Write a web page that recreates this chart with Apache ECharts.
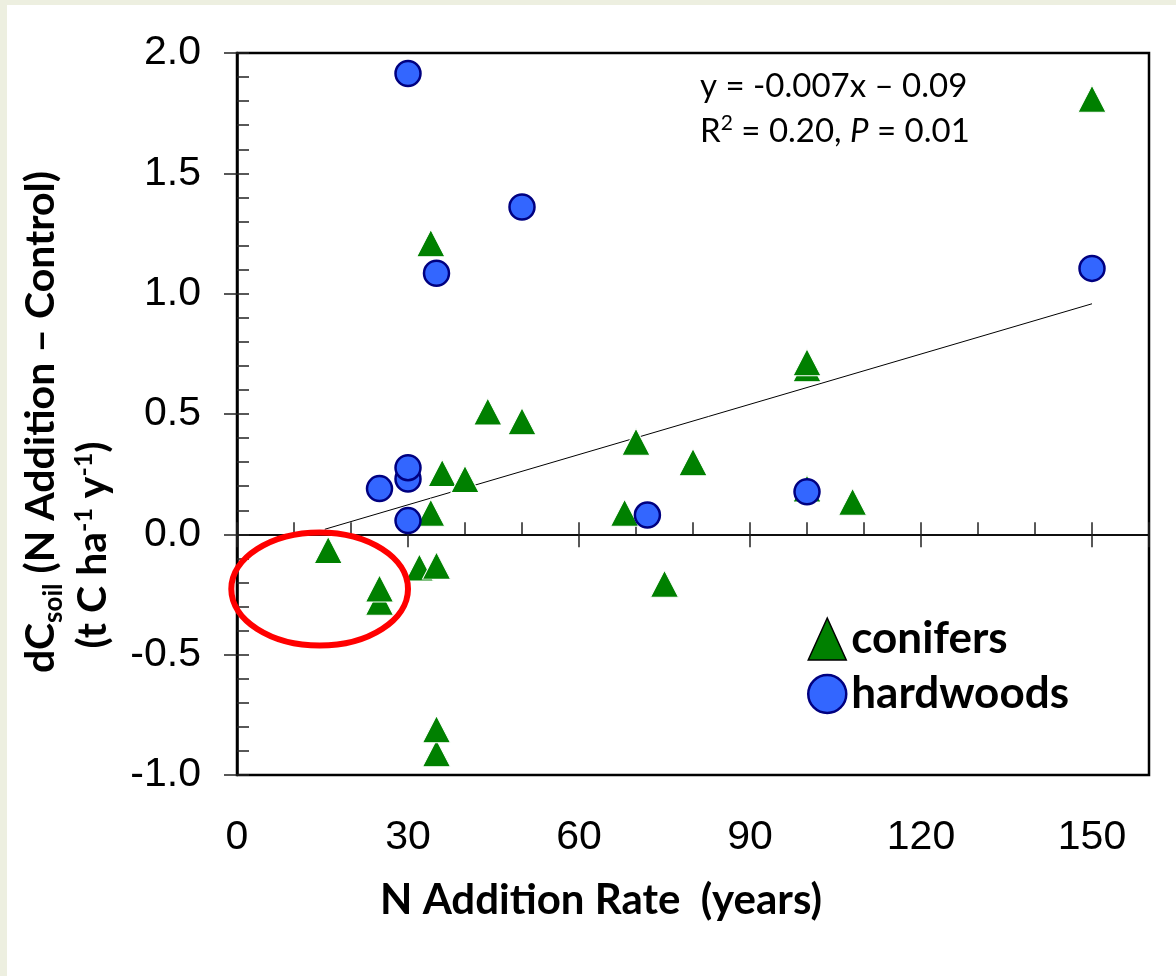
<!DOCTYPE html>
<html>
<head>
<meta charset="utf-8">
<script src="https://cdn.jsdelivr.net/npm/echarts@6/dist/echarts.min.js"></script>
<style>
html,body{margin:0;padding:0;background:#ffffff;}
#chart{width:1176px;height:976px;}
</style>
</head>
<body>
<div id="chart"></div>
<script>
// ---- data ----
const coniferX = [150, 34, 44, 36, 40, 34, 50, 70, 80, 68, 100, 100, 100, 108, 75, 16, 25, 25, 32, 35, 35, 35];
const coniferY = [1.81, 1.21, 0.51, 0.255, 0.23, 0.09, 0.47, 0.385, 0.30, 0.09, 0.69, 0.715, 0.19, 0.135, -0.205, -0.065, -0.28, -0.225, -0.138, -0.13, -0.91, -0.81];
const hardwoodX = [30, 50, 35, 150, 25, 30, 30, 30, 72, 100];
const hardwoodY = [1.915, 1.36, 1.085, 1.105, 0.19, 0.23, 0.277, 0.057, 0.08, 0.177];
const fitX = [15.4, 150];
const fitY = [0.021, 0.958];
const xTickLabels = [0, 30, 60, 90, 120, 150];
const yTickLabels = [-1.0, -0.5, 0.0, 0.5, 1.0, 1.5, 2.0];
const highlight = [14.5, -0.227, 15.5, 0.235]; // centre x, centre y, radius x, radius y (data units)

const BEIGE = '#edefe0';
const chart = echarts.init(document.getElementById('chart'));

const tickStyle = {color: '#222', width: 1.5};
const option = {
  animation: false,
  backgroundColor: '#ffffff',
  grid: {left: 237, right: 27, top: 53, bottom: 201, show: true, borderColor: '#000', borderWidth: 2.5, backgroundColor: '#ffffff'},
  xAxis: [
    {
      type: 'value', min: 0, max: 160, interval: 10, position: 'bottom',
      axisLine: {show: false, onZero: false},
      axisTick: {show: false},
      splitLine: {show: false},
      axisLabel: {
        margin: 42, fontSize: 41, fontFamily: 'Liberation Sans, Arial, sans-serif', color: '#000',
        formatter: v => xTickLabels.includes(v) ? String(v) : ''
      }
    },
    {
      type: 'value', min: 0, max: 160, interval: 10, position: 'bottom',
      axisLine: {show: true, onZero: true, onZeroAxisIndex: 0, lineStyle: {color: '#000', width: 1.5}},
      axisTick: {show: true, inside: true, length: 12, lineStyle: tickStyle},
      axisLabel: {show: false},
      splitLine: {show: false}
    },
    {
      type: 'value', min: 0, max: 160, interval: 30, position: 'bottom',
      axisLine: {show: true, onZero: true, onZeroAxisIndex: 0, lineStyle: {color: '#000', width: 1.5}},
      axisTick: {show: true, inside: false, length: 13, lineStyle: tickStyle},
      axisLabel: {show: false},
      splitLine: {show: false}
    }
  ],
  yAxis: [
    {
      type: 'value', min: -1, max: 2, interval: 0.5, position: 'left',
      axisLine: {show: true, onZero: false, lineStyle: {color: '#000', width: 2.5}},
      axisTick: {show: true, inside: true, length: 12, lineStyle: tickStyle},
      minorTick: {show: true, splitNumber: 5, length: 12, lineStyle: tickStyle},
      splitLine: {show: false},
      axisLabel: {
        margin: 36, fontSize: 41, fontFamily: 'Liberation Sans, Arial, sans-serif', color: '#000',
        formatter: v => {
          const hit = yTickLabels.find(t => Math.abs(t - v) < 1e-9);
          return hit === undefined ? '' : hit.toFixed(1);
        }
      }
    },
    {
      type: 'value', min: -1, max: 2, interval: 0.5, position: 'left',
      axisLine: {show: false, onZero: false},
      axisTick: {show: true, inside: false, length: 13, lineStyle: tickStyle},
      axisLabel: {show: false},
      splitLine: {show: false}
    }
  ],
  legend: {
    orient: 'vertical', left: 802, top: 612,
    itemWidth: 38, itemHeight: 42, itemGap: 11,
    textStyle: {fontFamily: 'Lato, sans-serif', fontWeight: 'bold', fontSize: 44, color: '#000', lineHeight: 42, padding: [0, 0, 0, 0]},
    data: [
      {name: 'conifers', icon: 'triangle', itemStyle: {color: '#008000', borderColor: '#000', borderWidth: 1.5}},
      {name: 'hardwoods', icon: 'circle', itemStyle: {color: '#3366ff', borderColor: '#000080', borderWidth: 2.5}}
    ]
  },
  series: [
    {
      name: 'fit', type: 'line', xAxisIndex: 0, yAxisIndex: 0, z: 2, silent: true,
      data: fitX.map((x, i) => [x, fitY[i]]),
      symbol: 'none', lineStyle: {color: '#000', width: 1}
    },
    {
      name: 'conifers', type: 'scatter', xAxisIndex: 0, yAxisIndex: 0, z: 3,
      data: coniferX.map((x, i) => [x, coniferY[i]]),
      symbol: 'triangle', symbolSize: [28, 27],
      itemStyle: {color: '#008000', borderColor: '#ffffff', borderWidth: 1, opacity: 1}
    },
    {
      name: 'hardwoods', type: 'scatter', xAxisIndex: 0, yAxisIndex: 0, z: 4,
      data: hardwoodX.map((x, i) => [x, hardwoodY[i]]),
      symbol: 'circle', symbolSize: 25,
      itemStyle: {color: '#3366ff', borderColor: '#000080', borderWidth: 2.5, opacity: 1}
    },
    {
      name: 'highlight', type: 'custom', xAxisIndex: 0, yAxisIndex: 0, z: 5, silent: true, clip: false,
      data: [highlight],
      renderItem: function (params, api) {
        const c = api.coord([api.value(0), api.value(1)]);
        const s = api.size([api.value(2), api.value(3)]);
        return {
          type: 'ellipse',
          shape: {cx: c[0], cy: c[1], rx: s[0], ry: s[1]},
          style: {fill: 'none', stroke: '#ff0000', lineWidth: 6}
        };
      }
    }
  ],
  graphic: [
    {type: 'rect', shape: {x: 0, y: 0, width: 1176, height: 5}, style: {fill: BEIGE}, silent: true},
    {type: 'rect', shape: {x: 0, y: 0, width: 7, height: 976}, style: {fill: BEIGE}, silent: true},
    {
      type: 'text', x: 700, y: 86, silent: true,
      style: {text: 'y = -0.007x – 0.09', fontFamily: 'Lato, sans-serif', fontSize: 33, fill: '#000', align: 'left', verticalAlign: 'middle'}
    },
    {
      type: 'text', x: 700, y: 131, silent: true,
      style: {
        text: '{n|R}{sup|2}{n| = 0.20, }{i|P}{n| = 0.01}',
        align: 'left', verticalAlign: 'middle', fill: '#000',
        rich: {
          n: {fontFamily: 'Lato, sans-serif', fontSize: 33, lineHeight: 36, fill: '#000'},
          i: {fontFamily: 'Lato, sans-serif', fontSize: 33, fontStyle: 'italic', lineHeight: 36, fill: '#000'},
          sup: {fontFamily: 'Lato, sans-serif', fontSize: 21, lineHeight: 21, padding: [0, 0, 16, 0], fill: '#000'}
        }
      }
    },
    {
      type: 'text', x: 601, y: 900, silent: true,
      style: {text: 'N Addition Rate  (years)', fontFamily: 'Lato, sans-serif', fontWeight: 'bold', fontSize: 42, fill: '#000', align: 'center', verticalAlign: 'middle'}
    },
    {
      type: 'text', x: 41, y: 422, rotation: Math.PI / 2, silent: true,
      style: {
        text: '{b|dC}{sub|soil}{b| (N Addition – Control)}',
        align: 'center', verticalAlign: 'middle', fill: '#000',
        rich: {
          b: {fontFamily: 'Lato, sans-serif', fontWeight: 'bold', fontSize: 41, lineHeight: 42, fill: '#000'},
          sub: {fontFamily: 'Lato, sans-serif', fontWeight: 'bold', fontSize: 26, lineHeight: 26, padding: [26, 0, 0, 0], fill: '#000'}
        }
      }
    },
    {
      type: 'text', x: 93, y: 545, rotation: Math.PI / 2, silent: true,
      style: {
        text: '{b|(t C ha}{sup|-1}{b| y}{sup|-1}{b|)}',
        align: 'center', verticalAlign: 'middle', fill: '#000',
        rich: {
          b: {fontFamily: 'Lato, sans-serif', fontWeight: 'bold', fontSize: 41, lineHeight: 42, fill: '#000'},
          sup: {fontFamily: 'Lato, sans-serif', fontWeight: 'bold', fontSize: 25, lineHeight: 25, padding: [0, 0, 19, 0], fill: '#000'}
        }
      }
    }
  ]
};
chart.setOption(option);
</script>
</body>
</html>
